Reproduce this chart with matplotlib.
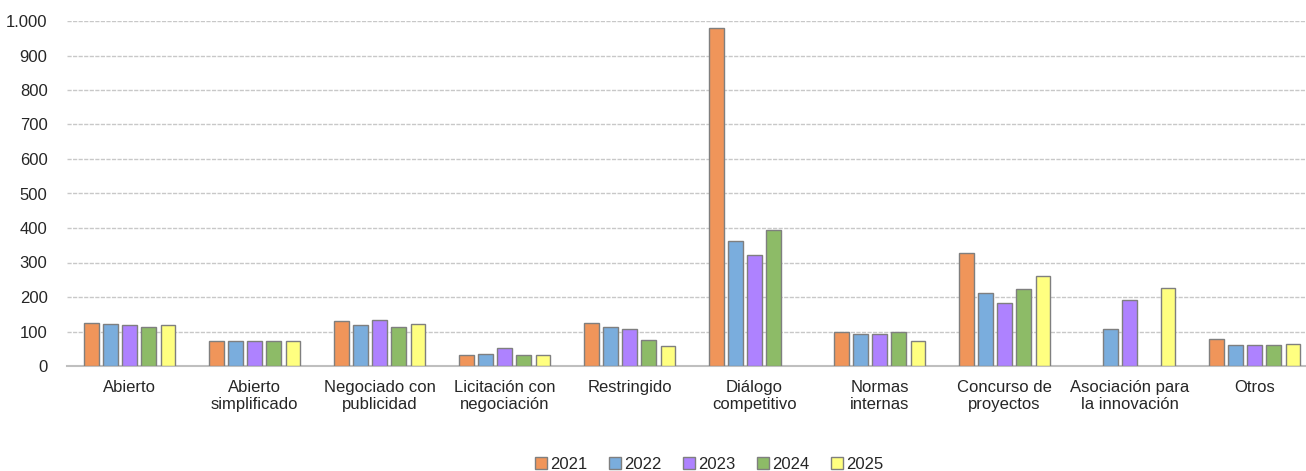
import numpy as np
import matplotlib.pyplot as plt
from matplotlib.ticker import FuncFormatter

plt.rcParams['font.family'] = ['Liberation Sans', 'DejaVu Sans']

categorias = ['Abierto', 'Abierto\nsimplificado', 'Negociado con\npublicidad',
              'Licitación con\nnegociación', 'Restringido', 'Diálogo\ncompetitivo',
              'Normas\ninternas', 'Concurso de\nproyectos', 'Asociación para\nla innovación',
              'Otros']
anios = ['2021', '2022', '2023', '2024', '2025']

v2021 = [124, 72, 130, 31, 126, 979, 100, 328, np.nan, 77]
v2022 = [122, 72, 120, 35, 114, 362, 93, 213, 106, 61]
v2023 = [118, 72, 132, 53, 107, 322, 92, 182, 191, 61]
v2024 = [113, 72, 113, 33, 75, 394, 98, 222, np.nan, 61]
v2025 = [118, 72, 121, 33, 57, np.nan, 72, 261, 227, 63]

colores = ['#F0955A', '#7AADDD', '#AE82FF', '#8DBB67', '#FFFF80']

series = [v2021, v2022, v2023, v2024, v2025]

fig = plt.figure(figsize=(13.06, 4.71), dpi=100)
# el eje se sale un poco por la derecha, como en el original
ax = fig.add_axes([67 / 1306, 1 - 366 / 471, 1250 / 1306, 345 / 471])

x = np.arange(len(categorias))
paso = 0.153
ancho = 0.116
for i, (vals, col, an) in enumerate(zip(series, colores, anios)):
    ax.bar(x + (i - 2) * paso, vals, width=ancho, color=col,
           edgecolor='#7F7F7F', linewidth=1.0, label=an, zorder=3)

ax.set_xlim(-0.5, len(categorias) - 0.5)
ax.set_ylim(0, 1000)
ax.set_yticks(range(0, 1001, 100))
ax.yaxis.set_major_formatter(FuncFormatter(lambda v, p: f'{int(v):,}'.replace(',', '.')))
ax.grid(axis='y', color='#C8C8C8', linestyle=(0, (3, 1)), linewidth=1.0, zorder=0)
ax.set_axisbelow(True)

for s in ['top', 'right', 'left']:
    ax.spines[s].set_visible(False)
ax.spines['bottom'].set_color('#BFBFBF')
ax.spines['bottom'].set_linewidth(1.5)

ax.set_xticks(x)
ax.set_xticklabels(categorias, fontsize=12, color='#262626', linespacing=1.2)
ax.tick_params(axis='x', length=0, pad=10)
ax.tick_params(axis='y', length=0, labelsize=12, labelcolor='#262626', pad=14)

ax.legend(loc='center', bbox_to_anchor=(0.514, -0.285), ncol=5, frameon=False,
          fontsize=12, handlelength=0.7, handleheight=0.7, handletextpad=0.2,
          columnspacing=1.3, labelcolor='#262626')

fig.savefig('out.png', dpi=100)
